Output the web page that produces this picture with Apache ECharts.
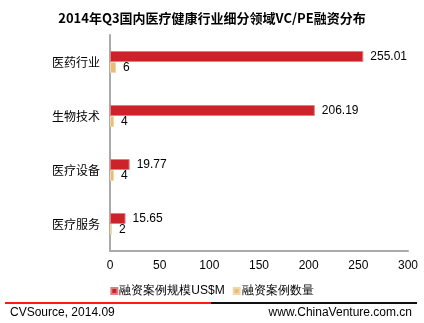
<!DOCTYPE html>
<html><head><meta charset="utf-8">
<script src="https://cdn.jsdelivr.net/npm/echarts@6/dist/echarts.min.js"></script>
<style>html,body{margin:0;padding:0;background:#fff}#c{width:424px;height:323px}</style>
</head><body><div id="c"></div>
<script>
const categories = ['医药行业','生物技术','医疗设备','医疗服务'];
const amountValues = [255.01, 206.19, 19.77, 15.65];
const countValues = [6, 4, 4, 2];
const seriesNames = ['融资案例规模US$M','融资案例数量'];
const xTicks = [0, 50, 100, 150, 200, 250, 300];

const font = 'Liberation Sans, Arial, sans-serif';
const chart = echarts.init(document.getElementById('c'));
chart.setOption({
  animation: false,
  title: {
    text: '2014年Q3国内医疗健康行业细分领域VC/PE融资分布',
    left: 'center', top: 7,
    textStyle: {fontSize: 13, fontWeight: 'bold', color: '#000', fontFamily: 'Noto Sans CJK SC, sans-serif'}
  },
  legend: {
    data: seriesNames, top: 280, left: 'center',
    itemWidth: 6, itemHeight: 6, itemGap: 8, icon: 'rect',
    textStyle: {fontSize: 12, color: '#000', fontFamily: font, padding: [0,0,0,-3]}
  },
  grid: {left: 110, right: 16, top: 35, bottom: 72},
  xAxis: {
    type: 'value', min: xTicks[0], max: xTicks[xTicks.length-1], interval: 50,
    axisLine: {show: true, lineStyle: {color: '#aaa', width: 2}},
    axisTick: {show: false}, splitLine: {show: false},
    axisLabel: {fontSize: 12, color: '#000', fontFamily: font, margin: 9}
  },
  yAxis: {
    type: 'category', data: categories, inverse: true,
    axisLine: {show: true, lineStyle: {color: '#aaa', width: 2}},
    axisTick: {show: false},
    axisLabel: {fontSize: 12, color: '#000', margin: 10, fontFamily: 'Noto Sans CJK SC, sans-serif'}
  },
  series: [
    {
      name: seriesNames[0], type: 'bar', data: amountValues, barWidth: 11, barGap: '0%',
      itemStyle: {color: '#CC2229', borderColor: '#E27C80', borderWidth: 1},
      label: {show: true, position: 'right', distance: 7, fontSize: 12, color: '#000', fontFamily: font,
        formatter: p => p.value.toFixed(2)}
    },
    {
      name: seriesNames[1], type: 'bar', data: countValues, barWidth: 11,
      itemStyle: {color: '#E9BD78', borderColor: '#F2D7AC', borderWidth: 1},
      label: {show: true, position: 'right', distance: 7, fontSize: 12, color: '#000', fontFamily: font}
    }
  ],
  graphic: [
    {type: 'rect', shape: {x: 5, y: 302, width: 206, height: 2}, style: {fill: '#FF1A1A'}},
    {type: 'rect', shape: {x: 211, y: 302, width: 206, height: 2}, style: {fill: '#111'}},
    {type: 'text', left: 10, top: 307, style: {text: 'CVSource, 2014.09', fontSize: 12, fill: '#000', fontFamily: font}},
    {type: 'text', right: 12, top: 307, style: {text: 'www.ChinaVenture.com.cn', fontSize: 12, fill: '#000', fontFamily: font}}
  ]
});
</script></body></html>
